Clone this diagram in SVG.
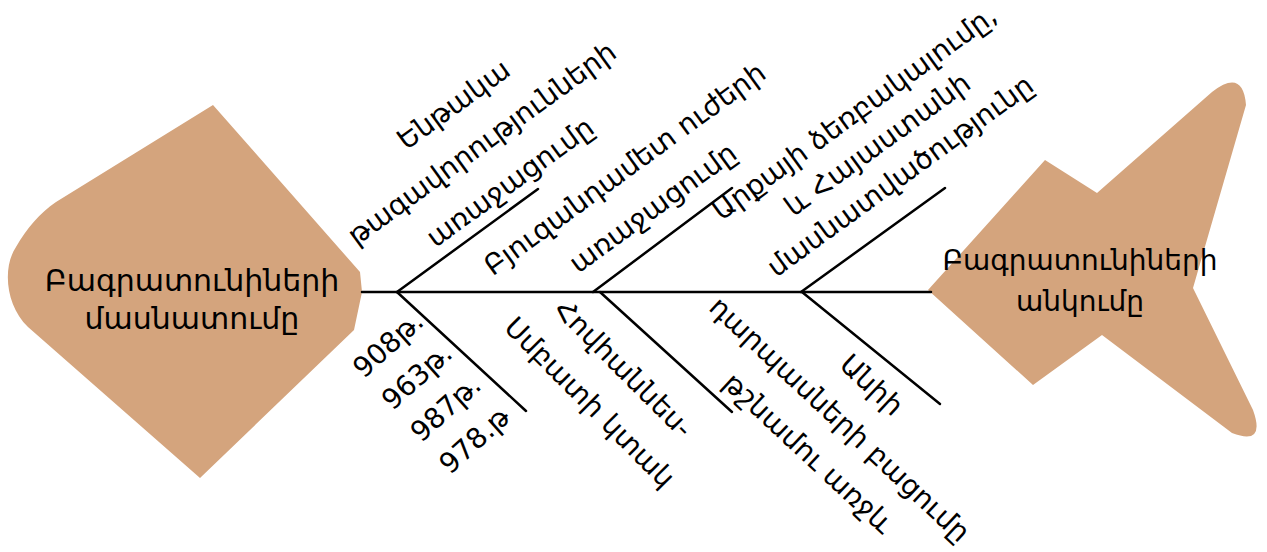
<svg xmlns="http://www.w3.org/2000/svg" width="1267" height="552" viewBox="0 0 1267 552">
<style>
.shape{fill:#D4A47D;stroke:none}
#connectors line{stroke:#000;stroke-width:2.5;stroke-linecap:round}
text{font-family:"DejaVu Sans",sans-serif;fill:#000;text-anchor:middle}
.head{font-size:30px}
.tailt{font-size:28px}
.lbl{font-size:28px}
</style>
<rect width="1267" height="552" fill="#fff"/>
<g id="head">
 <path class="shape" d="M213,105 L360,272 L362,292 L354,330 L200,478 L28,327 C6,306 2,268 16,247 C27,228 40,213 56,202 Z"/>
 <text class="head" x="192" y="291">Բագրատունիների</text>
 <text class="head" x="192" y="329">մասնատումը</text>
</g>
<g id="tail">
 <path class="shape" d="M928,290 L1045,160 L1097,193 L1212,92 Q1243,68 1246,105 L1193,288 L1253,410 Q1266,446 1232,433 L1102,335 L1033,385 Z"/>
 <text class="tailt" x="1080" y="270">Բագրատունիների</text>
 <text class="tailt" x="1080" y="311">անկումը</text>
</g>
<g id="connectors">
 <line x1="362" y1="292" x2="931" y2="292"/>
 <line x1="397" y1="292" x2="538" y2="189"/>
 <line x1="397" y1="292" x2="526" y2="411"/>
 <line x1="593" y1="292" x2="732" y2="188"/>
 <line x1="600" y1="292" x2="732" y2="412"/>
 <line x1="801" y1="292" x2="945" y2="188"/>
 <line x1="802" y1="292" x2="940" y2="404"/>
</g>
<g id="top1" transform="translate(481.5,143) rotate(-36)">
 <text class="lbl" x="0" y="-38">Ենթակա</text>
 <text class="lbl" x="0" y="10">թագավորությունների</text>
 <text class="lbl" x="0" y="58">առաջացումը</text>
</g>
<g id="top2" transform="translate(638.5,188) rotate(-36)">
 <text class="lbl" x="0" y="-14">Բյուզանդամետ ուժերի</text>
 <text class="lbl" x="0" y="34">առաջացումը</text>
</g>
<g id="top3" transform="translate(877,144) rotate(-36)">
 <text class="lbl" x="0" y="-29">Արքայի ձեռբակալումը,</text>
 <text class="lbl" x="0" y="10">և Հայաստանի</text>
 <text class="lbl" x="0" y="49">մասնատվածությունը</text>
</g>
<g id="bottom1" transform="translate(431,392) rotate(-42)">
 <text class="lbl" x="0" y="-54.5">908թ.</text>
 <text class="lbl" x="0" y="-11.5">963թ.</text>
 <text class="lbl" x="0" y="31.5">987թ.</text>
 <text class="lbl" x="0" y="74.5">978.թ</text>
</g>
<g id="bottom2" transform="translate(607,385) rotate(45)">
 <text class="lbl" x="0" y="-14">Հովհաննես-</text>
 <text class="lbl" x="0" y="34">Սմբատի կտակ</text>
</g>
<g id="bottom3" transform="translate(840,419) rotate(43)">
 <text class="lbl" x="0" y="-37">Անիի</text>
 <text class="lbl" x="0" y="10">դարպասների բացումը</text>
 <text class="lbl" x="0" y="56">թշնամու առջև</text>
</g>
</svg>
